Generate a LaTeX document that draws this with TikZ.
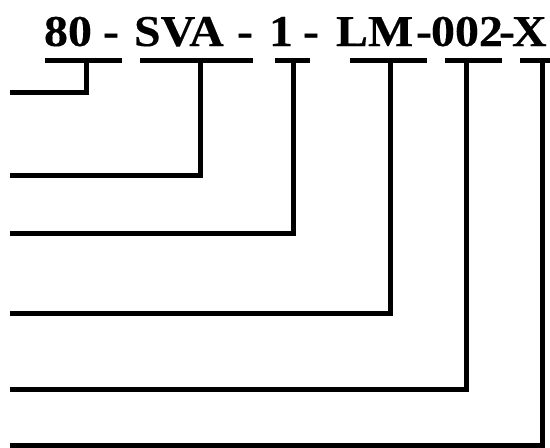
\documentclass[tikz,border=0pt]{standalone}
\usepackage{fontspec}
\setmainfont{Liberation Serif}[BoldFeatures={FakeBold=0.3}]
\usetikzlibrary{positioning}
\newcommand{\codepart}[1]{\scalebox{1.09}[1]{\fontsize{44}{44}\selectfont\bfseries #1}}
\begin{document}
\begin{tikzpicture}[x=1pt, y=-1pt,
    part/.style={inner sep=0pt, outer sep=0pt, anchor=base west},
    dash part/.style={inner sep=0pt, outer sep=0pt, anchor=base},
    bar/.style={line width=5pt},
    wire/.style={line width=5pt, line join=miter}]
    \useasboundingbox (0,0) rectangle (550,448);

    % The code, part by part
    \node[part] (n80) at (44,46) {\codepart{80}};
    \node[dash part] (h1) at (111,46) {\codepart{-}};
    \node[part] (sva) at (134,46) {\codepart{SVA}};
    \node[dash part] (h2) at (245,46) {\codepart{-}};
    \node[part] (n1) at (269,46) {\codepart{1}};
    \node[dash part] (h3) at (311,46) {\codepart{-}};
    \node[part] (lm) at (336,46) {\codepart{LM}};
    \node[dash part] (h4) at (424,46) {\codepart{-}};
    \node[part] (n002) at (431,46) {\codepart{002}};
    \node[dash part] (h5) at (507,46) {\codepart{-}};
    \node[part] (x) at (512,46) {\codepart{X}};

    % Underlines
    \foreach \a/\b in {45/122, 140/253, 275/310, 350/427, 445/502, 520/550}
        \draw[bar] (\a,60) -- (\b,60);

    % Leaders from each part to the left
    \foreach \n/\x/\y in {80/86/92, sva/200/175, 1/293/233, lm/390/313, 002/466/389, x/542/445} {
        \coordinate (t\n) at (\x,60);
        \coordinate (e\n) at (10,\y);
        \draw[wire] (t\n) |- (e\n);
    }
\end{tikzpicture}
\end{document}
